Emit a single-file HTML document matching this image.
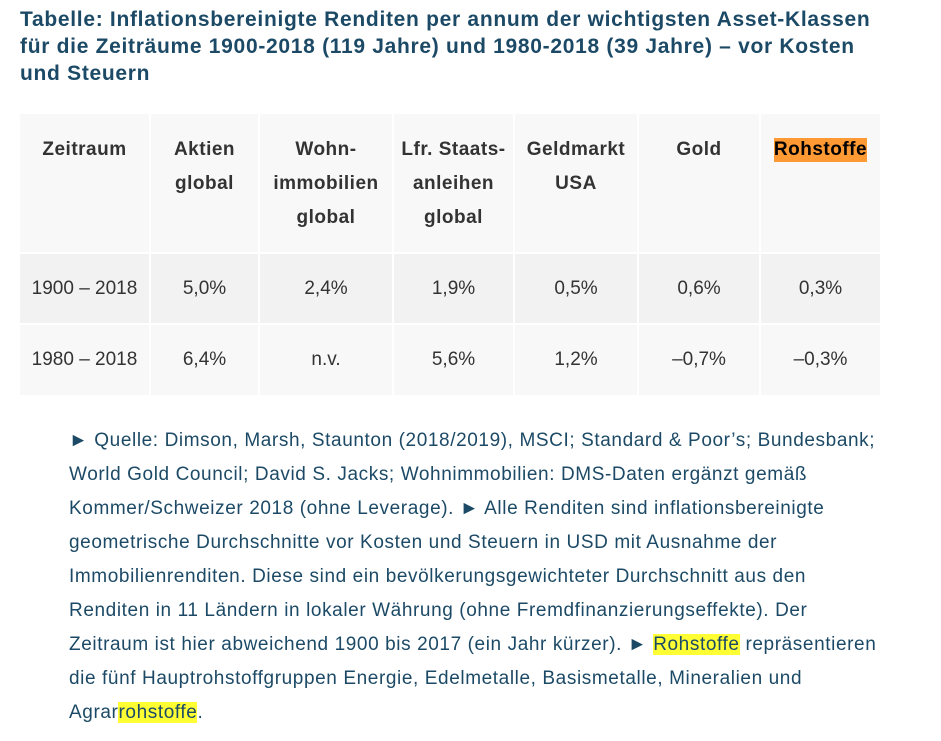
<!DOCTYPE html>
<html><head><meta charset="utf-8"><style>
body{margin:0;width:941px;height:741px;background:#fff;position:relative;overflow:hidden;font-family:"Liberation Sans",sans-serif}
.t{position:absolute;left:20px;top:6px;font-size:21px;font-weight:bold;color:#1c4a66;line-height:27px;white-space:nowrap;letter-spacing:0.7px}
.c{position:absolute;display:flex;justify-content:center;text-align:center;color:#333}
.h{background:#f8f8f8;top:114px;height:138px;font-weight:bold;font-size:19px;line-height:34px;padding-top:19px;box-sizing:border-box;letter-spacing:0.5px;align-items:flex-start}
.r1{background:#f2f2f2;top:254px;height:69px;align-items:center;font-size:19px}
.r2{background:#f8f8f8;top:325px;height:70px;align-items:center;font-size:19px}
.p{position:absolute;left:69px;top:424px;font-size:19px;line-height:34px;color:#1c4a66;white-space:nowrap;letter-spacing:0.6px}
.y{background:#ffff33}
</style></head><body>
<div class="t">Tabelle: Inflationsbereinigte Renditen per annum der wichtigsten Asset-Klassen<br>für die Zeiträume 1900-2018 (119 Jahre) und 1980-2018 (39 Jahre) – vor Kosten<br>und Steuern</div>
<div id="tbl"></div>
<div class="p">► Quelle: Dimson, Marsh, Staunton (2018/2019), MSCI; Standard &amp; Poor’s; Bundesbank;<br>World Gold Council; David S. Jacks; Wohnimmobilien: DMS-Daten ergänzt gemäß<br>Kommer/Schweizer 2018 (ohne Leverage). ► Alle Renditen sind inflationsbereinigte<br>geometrische Durchschnitte vor Kosten und Steuern in USD mit Ausnahme der<br>Immobilienrenditen. Diese sind ein bevölkerungsgewichteter Durchschnitt aus den<br>Renditen in 11 Ländern in lokaler Währung (ohne Fremdfinanzierungseffekte). Der<br>Zeitraum ist hier abweichend 1900 bis 2017 (ein Jahr kürzer). ► <span class="y">Rohstoffe</span> repräsentieren<br>die fünf Hauptrohstoffgruppen Energie, Edelmetalle, Basismetalle, Mineralien und<br>Agrar<span class="y">rohstoffe</span>.</div>
<script>
const headers=["Zeitraum","Aktien<br>global","Wohn-<br>immobilien<br>global","Lfr. Staats-<br>anleihen<br>global","Geldmarkt<br>USA","Gold",'<span style="background:#ff9933;color:#000;line-height:24px;display:inline-block">Rohstoffe</span>'];
const row1=["1900 – 2018","5,0%","2,4%","1,9%","0,5%","0,6%","0,3%"];
const row2=["1980 – 2018","6,4%","n.v.","5,6%","1,2%","–0,7%","–0,3%"];
const edges=[20,151,260,394,515,639,761,882];
const tbl=document.getElementById('tbl');
function cell(cls,html,i,name){
  const d=document.createElement('div');
  d.className='c '+cls;
  d.style.left=edges[i]+'px';
  d.style.width=(edges[i+1]-edges[i]-2)+'px';
  d.innerHTML='<div>'+html+'</div>';
  
  
  tbl.appendChild(d);
}
headers.forEach((h,i)=>cell('h',h,i,'header-cell'));
row1.forEach((v,i)=>cell('r1',v,i,'row-1900-cell'));
row2.forEach((v,i)=>cell('r2',v,i,'row-1980-cell'));
</script>
</body></html>
